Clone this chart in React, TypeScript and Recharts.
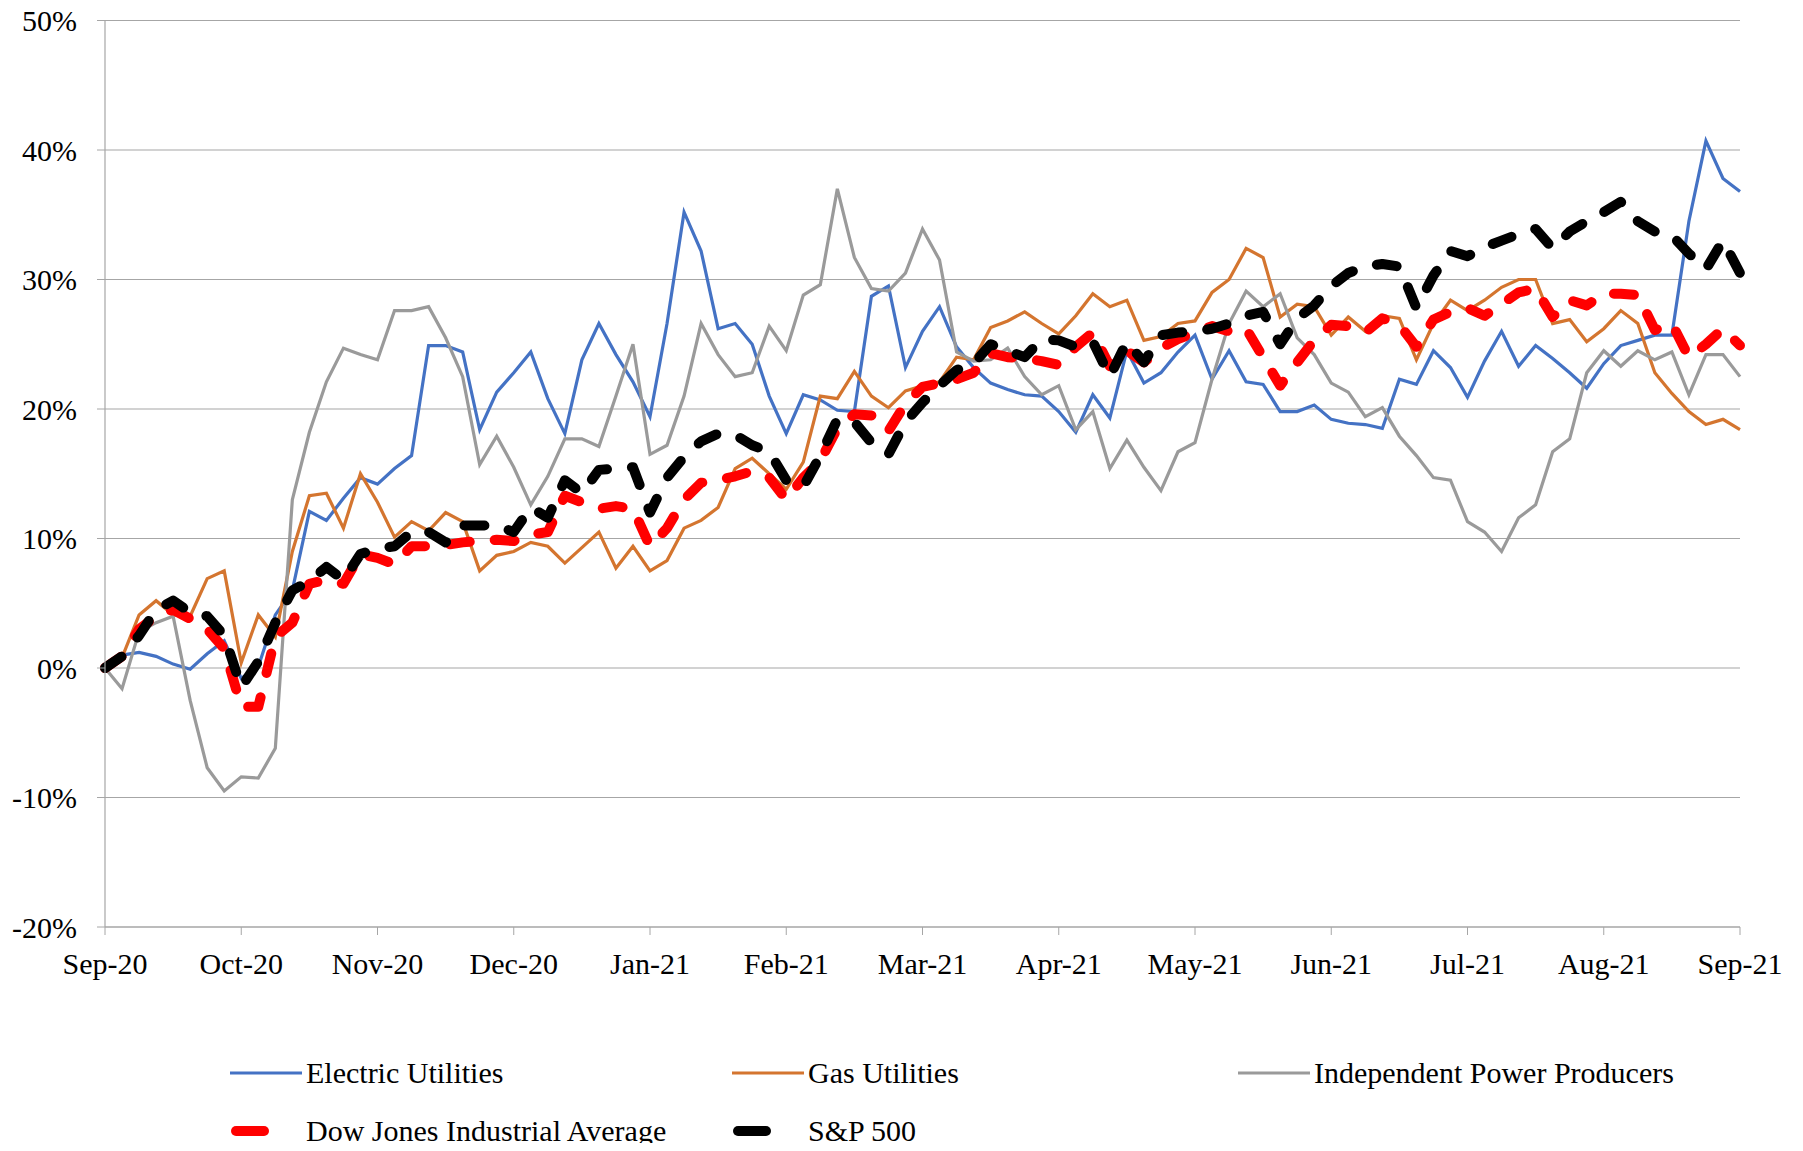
import { CartesianGrid, Line, LineChart, XAxis, YAxis } from "recharts";

// month labels on the x axis (one tick per month)
const monthLabels = [
  "Sep-20", "Oct-20", "Nov-20", "Dec-20", "Jan-21", "Feb-21", "Mar-21",
  "Apr-21", "May-21", "Jun-21", "Jul-21", "Aug-21", "Sep-21",
];
const monthTicks = [0, 1, 2, 3, 4, 5, 6, 7, 8, 9, 10, 11, 12];
const yTicks = [-20, -10, 0, 10, 20, 30, 40, 50];

// cumulative return (%), sampled 8 times per month
const electric = [
  0, 1.0, 1.2, 0.9, 0.3, -0.1, 1.1, 2.1,
  -0.8, 0.1, 4.1, 6.0, 12.1, 11.4, 13.1, 14.7,
  14.2, 15.4, 16.4, 24.9, 24.9, 24.4, 18.4, 21.3,
  22.8, 24.4, 20.8, 18.1, 23.8, 26.6, 24.2, 22.1,
  19.4, 26.6, 35.2, 32.2, 26.2, 26.6, 25.0, 21.0,
  18.1, 21.1, 20.7, 19.9, 19.8, 28.7, 29.5, 23.2,
  26.0, 27.9, 24.8, 23.2, 22.0, 21.5, 21.1, 21.0,
  19.8, 18.2, 21.1, 19.3, 24.5, 22.0, 22.8, 24.4,
  25.7, 22.3, 24.5, 22.1, 21.9, 19.8, 19.8, 20.3,
  19.2, 18.9, 18.8, 18.5, 22.3, 21.9, 24.5, 23.2,
  20.9, 23.7, 26.0, 23.3, 24.9, 23.9, 22.8, 21.6,
  23.5, 24.9, 25.3, 25.7, 25.7, 34.5, 40.7, 37.8,
  36.8,
];

const gas = [
  0, 0.8, 4.1, 5.2, 4.1, 4.0, 6.9, 7.5,
  0.4, 4.1, 2.4, 9.0, 13.3, 13.5, 10.8, 15.0,
  12.8, 10.1, 11.3, 10.6, 12.0, 11.3, 7.5, 8.7,
  9.0, 9.7, 9.4, 8.1, 9.3, 10.5, 7.7, 9.4,
  7.5, 8.3, 10.8, 11.4, 12.4, 15.4, 16.2, 15.0,
  13.8, 15.9, 21.0, 20.8, 22.9, 21.0, 20.1, 21.4,
  21.8, 22.1, 24.0, 23.8, 26.3, 26.8, 27.5, 26.6,
  25.8, 27.2, 28.9, 27.9, 28.4, 25.3, 25.6, 26.6,
  26.8, 29.0, 30.0, 32.4, 31.7, 27.1, 28.1, 27.9,
  25.7, 27.1, 26.0, 27.2, 27.0, 23.8, 26.6, 28.4,
  27.6, 28.4, 29.4, 30.0, 30.0, 26.6, 26.9, 25.2,
  26.2, 27.6, 26.6, 22.8, 21.2, 19.8, 18.8, 19.2,
  18.4,
];

const ipp = [
  0, -1.6, 2.8, 3.5, 4.0, -2.5, -7.7, -9.5,
  -8.4, -8.5, -6.2, 13.0, 18.2, 22.1, 24.7, 24.2,
  23.8, 27.6, 27.6, 27.9, 25.5, 22.5, 15.7, 17.9,
  15.5, 12.6, 14.8, 17.7, 17.7, 17.1, 21.0, 25.0,
  16.5, 17.2, 21.0, 26.6, 24.2, 22.5, 22.8, 26.4,
  24.5, 28.8, 29.6, 37.0, 31.7, 29.3, 29.1, 30.5,
  33.9, 31.5, 24.4, 23.7, 23.8, 24.7, 22.5, 21.1,
  21.8, 18.4, 19.8, 15.4, 17.6, 15.5, 13.7, 16.7,
  17.4, 22.3, 26.6, 29.1, 27.9, 28.9, 25.5, 24.2,
  22.0, 21.3, 19.4, 20.1, 17.9, 16.4, 14.7, 14.5,
  11.3, 10.5, 9.0, 11.6, 12.6, 16.7, 17.7, 22.8,
  24.5, 23.3, 24.5, 23.8, 24.4, 21.1, 24.2, 24.2,
  22.5,
];

const djia = [
  0, 0.9, 3.0, 4.0, 4.5, 3.8, 3.0, 1.5,
  -3.0, -3.0, 2.4, 3.5, 6.5, 6.8, 6.5, 8.8,
  8.5, 8.0, 9.4, 9.4, 9.5, 9.7, 9.8, 9.9,
  9.8, 10.3, 10.5, 13.3, 12.8, 12.3, 12.5, 12.3,
  9.4, 10.8, 13.0, 14.3, 14.5, 14.8, 15.2, 14.7,
  13.0, 14.7, 16.0, 18.5, 19.6, 19.5, 18.3, 20.4,
  21.7, 22.0, 22.3, 22.8, 24.3, 24.0, 23.9, 23.7,
  23.4, 24.8, 25.9, 23.3, 24.5, 23.6, 24.7, 25.4,
  25.9, 26.4, 26.0, 26.2, 24.0, 21.8, 23.6, 25.3,
  26.5, 26.4, 25.9, 27.0, 26.5, 24.8, 26.9, 27.5,
  27.8, 27.2, 28.1, 29.0, 29.3, 27.1, 28.4, 28.0,
  28.9, 28.9, 28.8, 26.1, 26.6, 24.0, 25.0, 26.2,
  24.9,
];

const spx = [
  0, 0.9, 2.5, 4.5, 5.2, 4.3, 4.0, 2.5,
  -1.5, 0.5, 3.5, 6.0, 6.7, 7.8, 6.8, 8.8,
  9.2, 9.4, 10.5, 10.5, 9.7, 11.0, 11.0, 11.0,
  10.5, 12.4, 11.6, 14.5, 13.5, 15.3, 15.4, 15.5,
  12.0, 14.7, 16.3, 17.5, 18.1, 18.0, 17.2, 16.7,
  14.5, 14.0, 16.4, 19.2, 19.0, 17.4, 16.5, 19.0,
  20.5, 21.8, 23.0, 23.5, 25.0, 24.5, 24.0, 25.4,
  25.3, 24.8, 25.2, 22.5, 25.2, 23.6, 25.7, 25.9,
  26.0, 26.2, 26.6, 27.2, 27.5, 25.0, 27.0, 28.0,
  29.5, 30.5, 31.0, 31.2, 31.0, 27.8, 30.3, 32.2,
  31.8, 32.5, 33.0, 33.5, 33.9, 32.4, 33.7, 34.5,
  35.2, 36.0, 34.5, 33.7, 33.4, 32.0, 30.8, 33.0,
  30.5,
];

const data = electric.map((v, i) => ({
  m: i / 8,
  electric: v,
  gas: gas[i],
  ipp: ipp[i],
  djia: djia[i],
  spx: spx[i],
}));

const W = 1787;
const H = 1143;
const FONT = "'Liberation Serif', 'Times New Roman', serif";
const AXIS = "#a6a6a6";

const legendItems = [
  { name: "Electric Utilities", color: "#4472c4", dashed: false },
  { name: "Gas Utilities", color: "#d4752f", dashed: false },
  { name: "Independent Power Producers", color: "#9a9a9a", dashed: false },
  { name: "Dow Jones Industrial Average", color: "#ff0000", dashed: true },
  { name: "S&P 500", color: "#000000", dashed: true },
];
const legendCols = [222, 724, 1230];
const legendRows = [1073, 1131];

function ChartLegend() {
  return (
    <>
      {legendItems.map((it, i) => {
        const left = legendCols[i % 3];
        const cy = legendRows[Math.floor(i / 3)];
        return (
          <div key={it.name} style={{ position: "absolute", left, top: cy - 20, height: 40, display: "flex", alignItems: "center" }}>
            <svg width={72} height={14} style={{ display: "block" }}>
              {it.dashed ? (
                <line x1={6} y1={7} x2={34} y2={7} stroke={it.color} strokeWidth={10} strokeLinecap="round" />
              ) : (
                <line x1={0} y1={7} x2={72} y2={7} stroke={it.color} strokeWidth={3} />
              )}
            </svg>
            <span style={{ marginLeft: 4, fontFamily: FONT, fontSize: 30, color: "#000", whiteSpace: "nowrap" }}>
              {it.name}
            </span>
          </div>
        );
      })}
    </>
  );
}

export default function App() {
  // pulled up over the body margin so the top tick label has room
  return (
    <div style={{ position: "relative", width: W, height: H, marginTop: -8, background: "#fff" }}>
      <LineChart width={W} height={H} data={data} margin={{ top: 20.5, right: 55, bottom: 176, left: 0 }}>
        <CartesianGrid vertical={false} stroke={AXIS} strokeWidth={1.2} />
        <XAxis
          dataKey="m"
          type="number"
          domain={[0, 12]}
          ticks={monthTicks}
          tickFormatter={(v: number) => monthLabels[v] ?? ""}
          height={40}
          tickSize={8}
          tickMargin={18}
          axisLine={{ stroke: AXIS, strokeWidth: 1.2 }}
          tickLine={{ stroke: AXIS }}
          tick={{ fill: "#000", fontFamily: FONT, fontSize: 30 }}
          interval={0}
        />
        <YAxis
          domain={[-20, 50]}
          ticks={yTicks}
          tickFormatter={(v: number) => `${v}%`}
          width={97}
          tickSize={8}
          tickMargin={20}
          axisLine={{ stroke: AXIS, strokeWidth: 1.2 }}
          tickLine={{ stroke: AXIS }}
          tick={{ fill: "#000", fontFamily: FONT, fontSize: 30 }}
          interval={0}
        />
        <Line type="linear" dataKey="electric" stroke="#4472c4" strokeWidth={3.2} dot={false} isAnimationActive={false} />
        <Line type="linear" dataKey="gas" stroke="#d4752f" strokeWidth={3.2} dot={false} isAnimationActive={false} />
        <Line type="linear" dataKey="ipp" stroke="#9a9a9a" strokeWidth={3.2} dot={false} isAnimationActive={false} />
        <Line
          type="linear"
          dataKey="djia"
          stroke="#ff0000"
          strokeWidth={10}
          strokeDasharray="20 25"
          strokeLinecap="round"
          strokeLinejoin="round"
          dot={false}
          isAnimationActive={false}
        />
        <Line
          type="linear"
          dataKey="spx"
          stroke="#000000"
          strokeWidth={10}
          strokeDasharray="20 25"
          strokeLinecap="round"
          strokeLinejoin="round"
          dot={false}
          isAnimationActive={false}
        />
      </LineChart>
      <ChartLegend />
    </div>
  );
}
